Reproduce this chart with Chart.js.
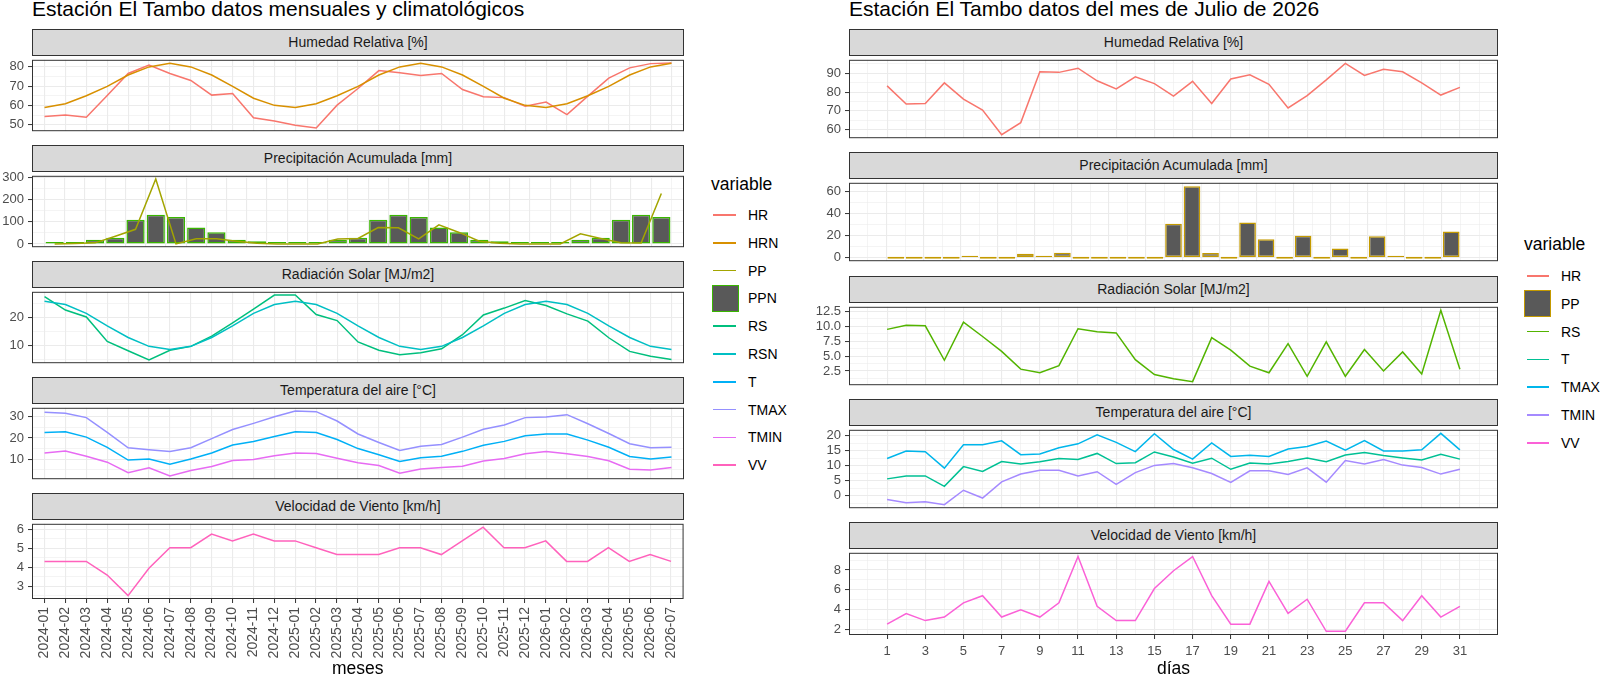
<!DOCTYPE html>
<html lang="es">
<head>
  <meta charset="UTF-8">
  <meta name="viewport" content="width=device-width, initial-scale=1.0">
  <title>Estación El Tambo</title>
  <script src="https://cdn.jsdelivr.net/npm/chart.js"></script>
  <style>
    body { margin: 0; background: #fff; font-family: 'Liberation Sans', Arial, sans-serif; }
    #page { position: relative; width: 1600px; height: 676px; overflow: hidden; }
    .title { position: absolute; top: -2px; font-size: 21px; line-height: 21px; color: #000; white-space: nowrap; z-index: 3; }
    .strip { position: absolute; height: 27px; box-sizing: border-box; border: 1px solid #333; background: #d9d9d9;
             color: #1a1a1a; font-size: 14px; line-height: 25px; text-align: center; z-index: 2; white-space: nowrap; }
    .facet { position: absolute; z-index: 1; }
    .lg-title { position: absolute; font-size: 17.5px; line-height: 17.5px; color: #000; }
    .lg-label { position: absolute; font-size: 14px; line-height: 20px; height: 20px; color: #000; }
    .lg-line { position: absolute; height: 1.5px; }
    .lg-box { position: absolute; width: 27px; height: 27px; box-sizing: border-box; border: 1.5px solid; background: #595959; }
  </style>
</head>
<body>
<div id="page">
  <div class="title" style="left:32px">Estación El Tambo datos mensuales y climatológicos</div>
  <div class="title" style="left:849px">Estación El Tambo datos del mes de Julio de 2026</div>
</div>
<script>
  // --- datos mensuales (panel izquierdo) ---
  const meses = ['2024-01', '2024-02', '2024-03', '2024-04', '2024-05', '2024-06', '2024-07', '2024-08',
    '2024-09', '2024-10', '2024-11', '2024-12', '2025-01', '2025-02', '2025-03', '2025-04', '2025-05',
    '2025-06', '2025-07', '2025-08', '2025-09', '2025-10', '2025-11', '2025-12', '2026-01', '2026-02',
    '2026-03', '2026-04', '2026-05', '2026-06', '2026-07'];
  const hr = [54.3, 55.1, 53.9, 65.2, 76.6, 80.9, 76.6, 73.0, 65.4, 66.2, 53.7, 52.0, 49.8, 48.4, 60.2, 68.8,
    78.1, 77.0, 75.6, 76.6, 68.3, 64.6, 64.1, 59.6, 61.8, 55.3, 64.9, 74.2, 79.5, 81.7, 82.0];
  const hrn = [59.0, 60.9, 65.1, 69.9, 75.8, 80.0, 81.9, 80.0, 75.8, 69.9, 63.8, 60.1, 59.0, 60.9, 65.1, 69.9,
    75.8, 80.0, 81.9, 80.0, 75.8, 69.9, 63.8, 60.1, 59.0, 60.9, 65.1, 69.9, 75.8, 80.0, 81.9];
  const pp = [0, 2, 5, 35, 66, 293, 0, 23, 23, 12, 3, 0, 0, 0, 22, 25, 74, 73, 23, 86, 52, 12, 3, 0, 0, 0,
    46, 25, 5, 4, 228];
  const ppn = [3, 8, 19, 28, 109, 132, 122, 74, 53, 19, 12, 8, 3, 8, 19, 28, 109, 132, 122, 74, 53, 19, 12, 8,
    3, 8, 19, 28, 109, 132, 122];
  const rs = [27.5, 22.7, 20.2, 11.4, 8.0, 4.7, 8.2, 9.6, 13.3, 18.1, 23.0, 28.1, 28.1, 21.1, 18.9, 11.2, 8.2,
    6.6, 7.3, 8.7, 13.8, 20.9, 23.4, 26.1, 24.3, 21.3, 18.7, 12.7, 7.8, 6.0, 4.9];
  const rsn = [25.9, 24.7, 21.5, 17.0, 12.8, 9.6, 8.5, 9.6, 12.8, 17.0, 21.5, 24.7, 25.9, 24.7, 21.5, 17.0, 12.8,
    9.6, 8.5, 9.6, 12.8, 17.0, 21.5, 24.7, 25.9, 24.7, 21.5, 17.0, 12.8, 9.6, 8.5];
  const t = [22.6, 22.9, 20.4, 15.6, 9.6, 10.1, 7.6, 10.1, 12.9, 16.7, 18.3, 20.7, 22.9, 22.6, 19.3, 15.0, 12.1,
    8.9, 10.7, 11.4, 13.7, 16.6, 18.4, 21.0, 21.9, 21.9, 19.0, 15.6, 11.3, 10.1, 11.0];
  const tmax = [32.1, 31.7, 29.6, 22.6, 15.4, 14.4, 13.6, 15.4, 19.7, 24.0, 26.9, 30.0, 32.7, 32.4, 28.0, 21.9,
    17.9, 14.1, 16.1, 16.9, 20.4, 24.1, 26.1, 29.6, 29.9, 31.0, 26.7, 22.1, 17.3, 15.4, 15.6];
  const tmin = [12.9, 13.9, 11.4, 8.6, 3.6, 6.0, 2.1, 4.7, 6.6, 9.4, 9.9, 11.6, 12.9, 12.7, 10.4, 8.3, 7.0, 3.4,
    5.4, 6.1, 6.7, 9.1, 10.3, 12.6, 13.6, 12.6, 11.3, 9.3, 5.3, 4.9, 6.1];
  const vv = [4.32, 4.32, 4.32, 3.6, 2.52, 3.96, 5.04, 5.04, 5.76, 5.4, 5.76, 5.4, 5.4, 5.04, 4.68, 4.68, 4.68,
    5.04, 5.04, 4.68, 5.4, 6.12, 5.04, 5.04, 5.4, 4.32, 4.32, 5.04, 4.32, 4.68, 4.32];

  const hrBreaksL = [50, 60, 70, 80];
  const ppBreaksL = [0, 100, 200, 300];
  const rsBreaksL = [10, 20];
  const tBreaksL = [10, 20, 30];
  const vvBreaksL = [3, 4, 5, 6];

  // --- datos diarios julio 2026 (panel derecho) ---
  const dias = [1, 2, 3, 4, 5, 6, 7, 8, 9, 10, 11, 12, 13, 14, 15, 16, 17, 18, 19, 20, 21, 22, 23, 24, 25, 26,
    27, 28, 29, 30, 31];
  const diasBreaks = [1, 3, 5, 7, 9, 11, 13, 15, 17, 19, 21, 23, 25, 27, 29, 31];
  const hrDia = [83.3, 73.6, 73.9, 84.9, 76.2, 70.4, 57.3, 63.7, 90.8, 90.5, 92.7, 86.0, 81.7, 88.1, 84.5, 77.8,
    85.7, 73.9, 87.0, 89.2, 84.1, 71.5, 78.1, 86.5, 95.3, 88.9, 92.2, 90.8, 84.9, 78.4, 82.5];
  const ppDia = [0, 0, 0, 0, 1.6, 0, 0, 3.5, 1.0, 4.4, 0, 0, 0, 0, 0, 30.8, 64.6, 4.1, 0, 31.9, 16.6, 0, 19.9,
    0, 8.2, 0, 19.3, 0.5, 0, 0, 23.7];
  const rsDia = [9.5, 10.2, 10.1, 4.3, 10.7, 8.3, 5.8, 2.8, 2.2, 3.4, 9.6, 9.1, 8.9, 4.4, 1.9, 1.2, 0.7, 8.1,
    6.0, 3.3, 2.2, 7.1, 1.6, 7.4, 1.6, 6.1, 2.5, 5.7, 2.0, 12.7, 2.8];
  const tDia = [5.6, 6.6, 6.6, 3.1, 9.7, 8.1, 11.4, 10.6, 11.3, 12.4, 12.1, 14.1, 10.7, 11.0, 14.6, 12.9, 10.8,
    12.5, 8.8, 10.9, 10.6, 11.4, 12.6, 11.3, 13.6, 14.4, 13.4, 12.6, 11.9, 13.8, 12.2];
  const tmaxDia = [12.4, 14.9, 14.7, 9.2, 17.0, 17.0, 18.3, 13.7, 13.9, 16.0, 17.3, 20.3, 17.8, 14.7, 20.7, 15.4,
    12.2, 17.6, 13.1, 13.5, 13.1, 15.6, 16.4, 18.2, 15.2, 18.4, 14.9, 14.9, 15.3, 20.8, 15.3];
  const tminDia = [-1.3, -2.4, -2.0, -3.0, 1.8, -0.8, 4.6, 7.2, 8.5, 8.5, 6.6, 8.0, 3.8, 7.7, 10.1, 10.7, 9.3,
    7.4, 4.4, 8.3, 8.3, 7.1, 9.3, 4.5, 11.7, 10.6, 12.1, 10.2, 9.4, 7.2, 8.8];
  const vvDia = [2.52, 3.6, 2.88, 3.24, 4.68, 5.4, 3.24, 3.96, 3.24, 4.68, 9.36, 4.32, 2.88, 2.88, 6.12, 7.92,
    9.36, 5.4, 2.52, 2.52, 6.84, 3.6, 5.04, 1.8, 1.8, 4.68, 4.68, 2.88, 5.4, 3.24, 4.32];

  const hrBreaksR = [60, 70, 80, 90];
  const ppBreaksR = [0, 20, 40, 60];
  const rsBreaksR = [2.5, 5, 7.5, 10, 12.5];
  const tBreaksR = [0, 5, 10, 15, 20];
  const vvBreaksR = [2, 4, 6, 8];

  const strips = ['Humedad Relativa [%]', 'Precipitación Acumulada [mm]', 'Radiación Solar [MJ/m2]',
    'Temperatura del aire [°C]', 'Velocidad de Viento [km/h]'];

  Chart.defaults.font.family = "'Liberation Sans', Arial, sans-serif";

  const page = document.getElementById('page');
  const STRIP_H = 27, PAD = 8, H = 676;

  // marco del panel (como panel.border de ggplot)
  const panelBorder = {
    id: 'panelBorder',
    afterDraw(chart) {
      const { ctx, chartArea: a } = chart;
      ctx.save();
      ctx.strokeStyle = '#333333';
      ctx.lineWidth = 1;
      ctx.strokeRect(a.left + 0.5, a.top + 0.5, a.right - a.left - 1, a.bottom - a.top - 1);
      ctx.restore();
    }
  };

  // rango con expansion del 5% como ggplot
  function expand(series, withZero) {
    const flat = series.flat();
    let lo = Math.min(...flat), hi = Math.max(...flat);
    if (withZero) { lo = Math.min(lo, 0); hi = Math.max(hi, 0); }
    const d = (hi - lo) * 0.05;
    return [lo - d, hi + d];
  }

  function minorsOf(majors, lo, hi) {
    const step = majors[1] - majors[0];
    const out = [];
    for (let v = majors[0] - step / 2; v <= majors[majors.length - 1] + step / 2 + 1e-9; v += step) {
      if (v >= lo && v <= hi) out.push(+v.toFixed(6));
    }
    return out;
  }

  const near = (list, v) => list.some(m => Math.abs(m - v) < 1e-6);

  function facet(p, k, f) {
    const stripTop = p.tops[k];
    const plotTop = stripTop + STRIP_H;
    const last = k === p.tops.length - 1;
    const axisH = last ? H - (plotTop + p.plotH) : 0;

    const strip = document.createElement('div');
    strip.className = 'strip';
    strip.style.cssText = `left:${p.left}px;top:${stripTop}px;width:${p.right - p.left}px`;
    strip.textContent = strips[k];
    page.appendChild(strip);

    const cv = document.createElement('canvas');
    cv.className = 'facet';
    cv.width = p.gutter + (p.right - p.left) + PAD;
    cv.height = PAD + p.plotH + (last ? axisH : PAD);
    cv.style.left = (p.left - p.gutter) + 'px';
    cv.style.top = (plotTop - PAD) + 'px';
    page.appendChild(cv);

    const ys = f.lines.map(l => l[0]).concat(f.bars ? [f.bars[0]] : []);
    const [yMin, yMax] = expand(ys, !!f.bars);
    const yTicks = f.ticks.concat(minorsOf(f.ticks, yMin, yMax)).sort((a, b) => a - b);
    const xTicks = p.xMajor.concat(p.xMinor).sort((a, b) => a - b);
    const pts = arr => arr.map((v, i) => ({ x: p.xs[i], y: v }));

    const datasets = f.lines.map((l, i) => ({
      type: 'line', data: pts(l[0]), borderColor: l[1], borderWidth: 1.5,
      pointRadius: 0, pointHoverRadius: 0, tension: 0, fill: false, order: f.lines.length - i
    }));
    if (f.bars) {
      datasets.push({
        type: 'bar', data: pts(f.bars[0]), backgroundColor: '#595959', borderColor: f.bars[1],
        borderWidth: 1.5, borderSkipped: false, barPercentage: 0.9, categoryPercentage: 1,
        minBarLength: 2, order: 99
      });
    }

    const lw = major => c => (c.tick && near(major, c.tick.value)) ? 1.1 : 0.55;
    const tc = major => c => (c.tick && near(major, c.tick.value)) ? '#333333' : 'rgba(0,0,0,0)';

    new Chart(cv, {
      type: 'line',
      data: { datasets },
      options: {
        responsive: false,
        animation: false,
        events: [],
        layout: { padding: { top: PAD, right: PAD, bottom: last ? 0 : PAD, left: 0 } },
        plugins: { legend: { display: false }, tooltip: { enabled: false } },
        scales: {
          x: {
            type: 'linear', min: p.xMin, max: p.xMax,
            afterBuildTicks: s => { s.ticks = xTicks.map(v => ({ value: v })); },
            afterFit: s => { s.height = axisH; },
            border: { display: false },
            grid: { color: '#ebebeb', lineWidth: lw(p.xMajor), drawTicks: last, tickLength: 4,
                    tickWidth: 1, tickColor: tc(p.xMajor) },
            ticks: {
              display: last, autoSkip: false, minRotation: p.xRot, maxRotation: p.xRot,
              padding: p.xPad, color: '#4d4d4d', font: { size: p.xFont },
              callback: v => near(p.xMajor, v) ? p.xLabel(v) : ''
            },
            title: {
              display: last, text: p.xTitle, color: '#000', padding: 0,
              font: { size: 17.5, lineHeight: 0.75 }
            }
          },
          y: {
            type: 'linear', min: yMin, max: yMax,
            afterBuildTicks: s => { s.ticks = yTicks.map(v => ({ value: v })); },
            afterFit: s => { s.width = p.gutter; },
            border: { display: false },
            grid: { color: '#ebebeb', lineWidth: lw(f.ticks), tickLength: 4, tickWidth: 1,
                    tickColor: tc(f.ticks) },
            ticks: {
              autoSkip: false, padding: 4, color: '#4d4d4d', font: { size: 13 },
              callback: v => near(f.ticks, v) ? (f.digits ? v.toFixed(f.digits) : String(v)) : ''
            }
          }
        }
      },
      plugins: [panelBorder]
    });
  }

  function legend(lg) {
    const title = document.createElement('div');
    title.className = 'lg-title';
    title.style.left = lg.x + 'px';
    title.style.top = lg.titleTop + 'px';
    title.textContent = 'variable';
    page.appendChild(title);
    lg.items.forEach((it, i) => {
      const cy = lg.firstY + i * lg.step;
      const key = document.createElement('div');
      if (it[2] === 'box') {
        key.className = 'lg-box';
        key.style.cssText = `left:${lg.boxX}px;top:${cy - 13.5}px;border-color:${it[1]}`;
      } else {
        key.className = 'lg-line';
        key.style.cssText = `left:${lg.lineX}px;top:${cy - 0.75}px;width:${lg.lineW}px;background:${it[1]}`;
      }
      page.appendChild(key);
      const lab = document.createElement('div');
      lab.className = 'lg-label';
      lab.style.left = lg.labelX + 'px';
      lab.style.top = (cy - 10) + 'px';
      lab.textContent = it[0];
      page.appendChild(lab);
    });
  }

  // colores hue de ggplot
  const colL = { HR: '#F8766D', HRN: '#D89000', PP: '#A3A500', PPN: '#39B600', RS: '#00BF7D',
    RSN: '#00BFC4', T: '#00B0F6', TMAX: '#9590FF', TMIN: '#E76BF3', VV: '#FF62BC' };
  const colR = { HR: '#F8766D', PP: '#C49A00', RS: '#53B400', T: '#00C094', TMAX: '#00B6EB',
    TMIN: '#A58AFF', VV: '#FB61D7' };

  const idx = meses.map((m, i) => i);
  const leftPanel = {
    left: 32, right: 684, gutter: 32, plotH: 79, tops: [29, 145, 261, 377, 493],
    xs: idx, xMin: -0.6, xMax: meses.length - 0.4, xMajor: idx, xMinor: [],
    xLabel: v => meses[v], xRot: 90, xFont: 14, xPad: 4, xTitle: 'meses'
  };

  const dLo = dias[0] - 0.45, dHi = dias[dias.length - 1] + 0.45, dPad = (dHi - dLo) * 0.05;
  const rightPanel = {
    left: 849, right: 1498, gutter: 40, plotH: 86, tops: [29, 152, 276, 399, 522],
    xs: dias, xMin: dLo - dPad, xMax: dHi + dPad, xMajor: diasBreaks,
    xMinor: minorsOf(diasBreaks, dLo - dPad, dHi + dPad),
    xLabel: v => String(v), xRot: 0, xFont: 13, xPad: 5, xTitle: 'días'
  };

  [
    { ticks: hrBreaksL, lines: [[hr, colL.HR], [hrn, colL.HRN]] },
    { ticks: ppBreaksL, lines: [[pp, colL.PP]], bars: [ppn, colL.PPN] },
    { ticks: rsBreaksL, lines: [[rs, colL.RS], [rsn, colL.RSN]] },
    { ticks: tBreaksL, lines: [[t, colL.T], [tmax, colL.TMAX], [tmin, colL.TMIN]] },
    { ticks: vvBreaksL, lines: [[vv, colL.VV]] }
  ].forEach((f, k) => facet(leftPanel, k, f));

  [
    { ticks: hrBreaksR, lines: [[hrDia, colR.HR]] },
    { ticks: ppBreaksR, lines: [], bars: [ppDia, colR.PP] },
    { ticks: rsBreaksR, lines: [[rsDia, colR.RS]], digits: 1 },
    { ticks: tBreaksR, lines: [[tDia, colR.T], [tmaxDia, colR.TMAX], [tminDia, colR.TMIN]] },
    { ticks: vvBreaksR, lines: [[vvDia, colR.VV]] }
  ].forEach((f, k) => facet(rightPanel, k, f));

  legend({
    x: 711, titleTop: 176, firstY: 215, step: 27.8, lineX: 713, lineW: 23, boxX: 712, labelX: 748,
    items: [['HR', colL.HR], ['HRN', colL.HRN], ['PP', colL.PP], ['PPN', colL.PPN, 'box'], ['RS', colL.RS],
      ['RSN', colL.RSN], ['T', colL.T], ['TMAX', colL.TMAX], ['TMIN', colL.TMIN], ['VV', colL.VV]]
  });
  legend({
    x: 1524, titleTop: 236, firstY: 276, step: 27.8, lineX: 1527, lineW: 22, boxX: 1524, labelX: 1561,
    items: [['HR', colR.HR], ['PP', colR.PP, 'box'], ['RS', colR.RS], ['T', colR.T], ['TMAX', colR.TMAX],
      ['TMIN', colR.TMIN], ['VV', colR.VV]]
  });
</script>
</body>
</html>
